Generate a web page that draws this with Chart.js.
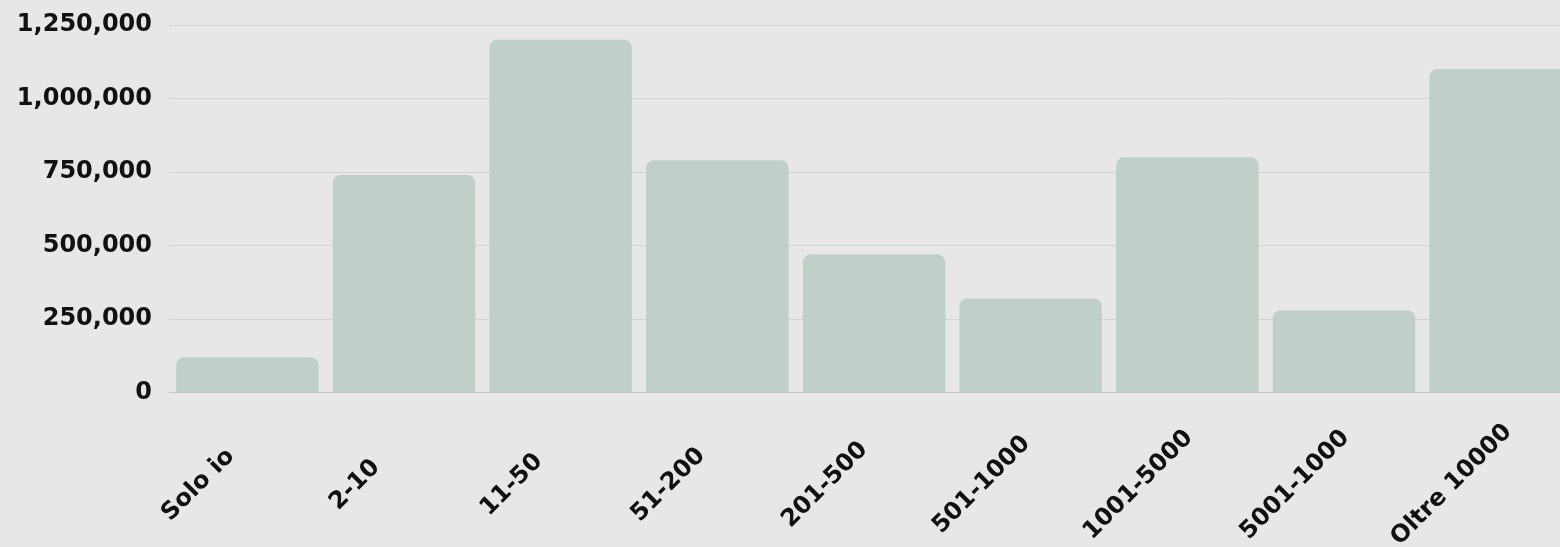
<!DOCTYPE html>
<html>
<head>
<meta charset="utf-8">
<script src="https://cdn.jsdelivr.net/npm/chart.js@4/dist/chart.umd.min.js"></script>
<style>
  html, body { margin: 0; padding: 0; background: #e7e7e7; overflow: hidden; }
  #wrap { width: 1579px; height: 547px; position: relative; }
</style>
</head>
<body>
<div id="wrap"><canvas id="grafico"></canvas></div>
<script>
const categorie = ['Solo io', '2-10', '11-50', '51-200', '201-500', '501-1000', '1001-5000', '5001-1000', 'Oltre 10000'];
const valori = [120000, 740000, 1200000, 790000, 470000, 320000, 800000, 280000, 1100000];
const tickY = [0, 250000, 500000, 750000, 1000000, 1250000];

const fontTesto = 'bold 24px "DejaVu Sans"';

// etichette x inclinate, centrate sotto ogni barra
const etichetteX = {
    id: 'etichetteX',
    afterDraw(chart) {
        const ctx = chart.ctx;
        const x = chart.scales.x;
        ctx.save();
        ctx.font = fontTesto;
        ctx.fillStyle = '#111111';
        ctx.textAlign = 'center';
        ctx.textBaseline = 'middle';
        categorie.forEach((c, i) => {
            ctx.save();
            ctx.translate(x.getPixelForValue(i) - 49, 485);
            ctx.rotate(-Math.PI / 4);
            ctx.fillText(c, 0, 0);
            ctx.restore();
        });
        ctx.restore();
    }
};

new Chart(document.getElementById('grafico'), {
    type: 'bar',
    data: {
        labels: categorie,
        datasets: [{
            data: valori,
            backgroundColor: '#c0d0c8',
            borderRadius: 8,
            barPercentage: 0.91,
            categoryPercentage: 1.0
        }]
    },
    options: {
        responsive: true,
        maintainAspectRatio: false,
        animation: false,
        locale: 'en-US',
        layout: { padding: { top: 25, right: 0, bottom: 0, left: 0 } },
        plugins: {
            legend: { display: false },
            tooltip: { enabled: false }
        },
        scales: {
            x: {
                grid: { display: false },
                border: { display: true, color: '#c6c6c6', width: 1 },
                ticks: { display: false },
                afterFit: (s) => { s.height = 154.5; }
            },
            y: {
                min: 0,
                max: 1250000,
                afterBuildTicks: (s) => { s.ticks = tickY.map(v => ({ value: v })); },
                grid: { color: '#d2d2d2', lineWidth: 1, drawTicks: false },
                border: { display: false },
                ticks: {
                    color: '#111111',
                    font: { family: 'DejaVu Sans', size: 24, weight: 'bold' },
                    padding: 17
                },
                afterFit: (s) => {
                    s.width = 169;
                    s.paddingTop = 0;
                    s.paddingBottom = 0;
                }
            }
        }
    },
    plugins: [etichetteX]
});
</script>
</body>
</html>
